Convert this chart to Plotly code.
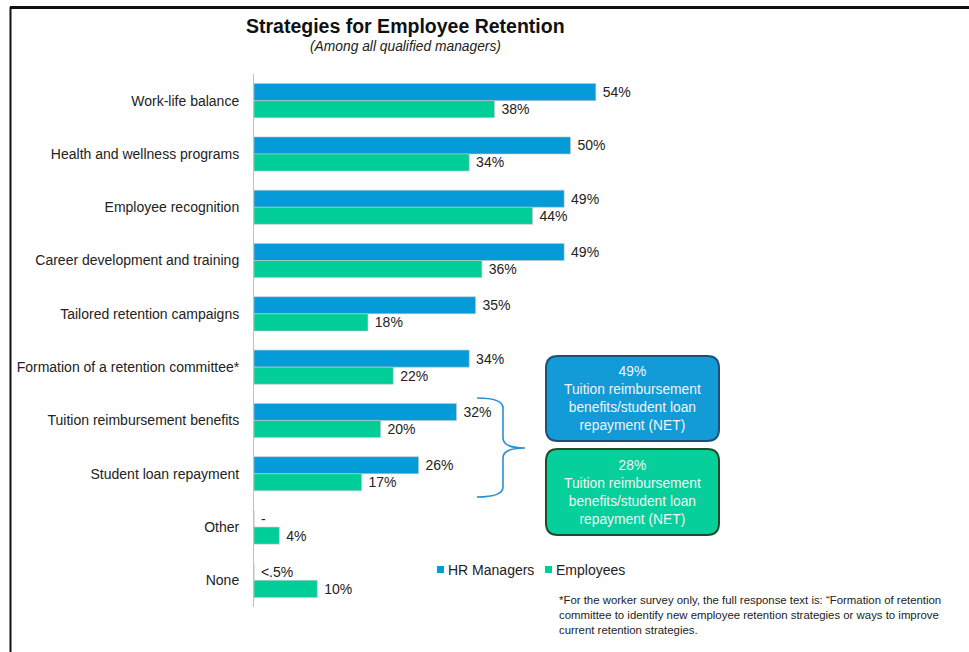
import plotly.graph_objects as go

# ---- data ----
categories = [
    "Work-life balance",
    "Health and wellness programs",
    "Employee recognition",
    "Career development and training",
    "Tailored retention campaigns",
    "Formation of a retention committee*",
    "Tuition reimbursement benefits",
    "Student loan repayment",
    "Other",
    "None",
]
hr_values = [54, 50, 49, 49, 35, 34, 32, 26, 0, 0]
hr_labels = ["54%", "50%", "49%", "49%", "35%", "34%", "32%", "26%", "-", "&lt;.5%"]
emp_values = [38, 34, 44, 36, 18, 22, 20, 17, 4, 10]
emp_labels = [f"{v}%" for v in emp_values]

net_hr = 49
net_emp = 28
net_label = "Tuition reimbursement<br>benefits/student loan<br>repayment (NET)"

series_names = ["HR Managers", "Employees"]

# ---- styling ----
W, H = 969, 652
ML, MR, MT, MB = 254, 0, 74, 45
PW, PH = W - ML - MR, H - MT - MB
BLUE = "#049bd8"
GREEN = "#00cd98"
FONT = "Liberation Sans, Arial, sans-serif"
TXT = "#222222"
PX_PER_PCT = 6.33


def px(x):
    return (x - ML) / PW


def py(y):
    return (H - MB - y) / PH


fig = go.Figure()
for name, vals, labels, color in [
    (series_names[0], hr_values, hr_labels, BLUE),
    (series_names[1], emp_values, emp_labels, GREEN),
]:
    fig.add_trace(go.Bar(
        name=name,
        y=categories,
        x=vals,
        orientation="h",
        marker=dict(color=color, line=dict(color="#c8c8c8", width=0.6)),
        text=["\u00a0" + t for t in labels],
        textposition="outside",
        constraintext="none",
        cliponaxis=False,
        textfont=dict(family=FONT, size=14, color=TXT),
        showlegend=False,
    ))

shapes = []
annotations = []

# frame lines
shapes.append(dict(type="line", xref="paper", yref="paper",
                   x0=px(10), x1=px(969), y0=py(7.5), y1=py(7.5),
                   line=dict(color="#111111", width=3)))
shapes.append(dict(type="line", xref="paper", yref="paper",
                   x0=px(10.5), x1=px(10.5), y0=py(7), y1=py(652),
                   line=dict(color="#111111", width=2)))


def rounded_rect(x0, y0, x1, y1, r):
    pts = [
        f"M {px(x0 + r)},{py(y0)}",
        f"L {px(x1 - r)},{py(y0)}",
        f"Q {px(x1)},{py(y0)} {px(x1)},{py(y0 + r)}",
        f"L {px(x1)},{py(y1 - r)}",
        f"Q {px(x1)},{py(y1)} {px(x1 - r)},{py(y1)}",
        f"L {px(x0 + r)},{py(y1)}",
        f"Q {px(x0)},{py(y1)} {px(x0)},{py(y1 - r)}",
        f"L {px(x0)},{py(y0 + r)}",
        f"Q {px(x0)},{py(y0)} {px(x0 + r)},{py(y0)}",
        "Z",
    ]
    return " ".join(pts)


# NET call-out boxes
boxes = [
    (356, 441, "#129bd6", "#1f4e79", net_hr),
    (449, 535, "#06cf9b", "#1e4d2b", net_emp),
]
for y0, y1, fill, edge, val in boxes:
    shapes.append(dict(type="path", xref="paper", yref="paper",
                       path=rounded_rect(546, y0, 719, y1, 12),
                       fillcolor=fill, line=dict(color=edge, width=2)))
    annotations.append(dict(xref="paper", yref="paper",
                            x=px(632.5), y=py((y0 + y1) / 2),
                            xanchor="center", yanchor="middle",
                            text=f"{val}%<br>{net_label}", showarrow=False,
                            align="center",
                            font=dict(family=FONT, size=13.8, color="#f4f4f4")))

# brace grouping the two tuition/loan rows
bx, tip = 503, 525
brace = (f"M {px(477)},{py(398)} Q {px(bx)},{py(398)} {px(bx)},{py(408)} "
         f"L {px(bx)},{py(438)} Q {px(bx)},{py(448)} {px(tip)},{py(448)} "
         f"Q {px(bx)},{py(448)} {px(bx)},{py(458)} "
         f"L {px(bx)},{py(487)} Q {px(bx)},{py(497)} {px(477)},{py(497)}")
shapes.append(dict(type="path", xref="paper", yref="paper", path=brace,
                   line=dict(color="#2a8fd0", width=1.6)))

# legend
for (sx, tx), name, color in zip([(437, 446), (545, 554)], series_names, [BLUE, GREEN]):
    shapes.append(dict(type="rect", xref="paper", yref="paper",
                       x0=px(sx), x1=px(sx + 7), y0=py(566), y1=py(573),
                       fillcolor=color, line=dict(width=0)))
    annotations.append(dict(xref="paper", yref="paper", x=px(tx), y=py(569.5),
                            xanchor="left", yanchor="middle", text=name,
                            showarrow=False,
                            font=dict(family=FONT, size=14, color=TXT)))

# title and subtitle
annotations.append(dict(xref="paper", yref="paper", x=px(405), y=py(26),
                        xanchor="center", yanchor="middle",
                        text="<b>Strategies for Employee Retention</b>",
                        showarrow=False,
                        font=dict(family=FONT, size=19.5, color="#111111")))
annotations.append(dict(xref="paper", yref="paper", x=px(405), y=py(46),
                        xanchor="center", yanchor="middle",
                        text="<i>(Among all qualified managers)</i>",
                        showarrow=False,
                        font=dict(family=FONT, size=13.8, color=TXT)))

# footnote
annotations.append(dict(
    xref="paper", yref="paper", x=px(557), y=py(592),
    xanchor="left", yanchor="top", align="left", showarrow=False,
    text=("*For the worker survey only, the full response text is: \u201cFormation of retention<br>"
          "committee to identify new employee retention strategies or ways to improve<br>"
          "current retention strategies."),
    font=dict(family=FONT, size=11.4, color=TXT)))

fig.update_layout(
    width=W, height=H,
    margin=dict(l=ML, r=MR, t=MT, b=MB),
    paper_bgcolor="white", plot_bgcolor="white",
    barmode="group", bargap=0.36, bargroupgap=0,
    font=dict(family=FONT, size=14, color=TXT),
    xaxis=dict(range=[0, PW / PX_PER_PCT], visible=False, fixedrange=True),
    yaxis=dict(autorange="reversed", showline=True, linecolor="#c0c0c0",
               linewidth=1, showgrid=False, ticks="", ticklabelstandoff=11,
               tickfont=dict(family=FONT, size=14, color=TXT)),
    shapes=shapes,
    annotations=annotations,
)

fig.write_html("out.html")
